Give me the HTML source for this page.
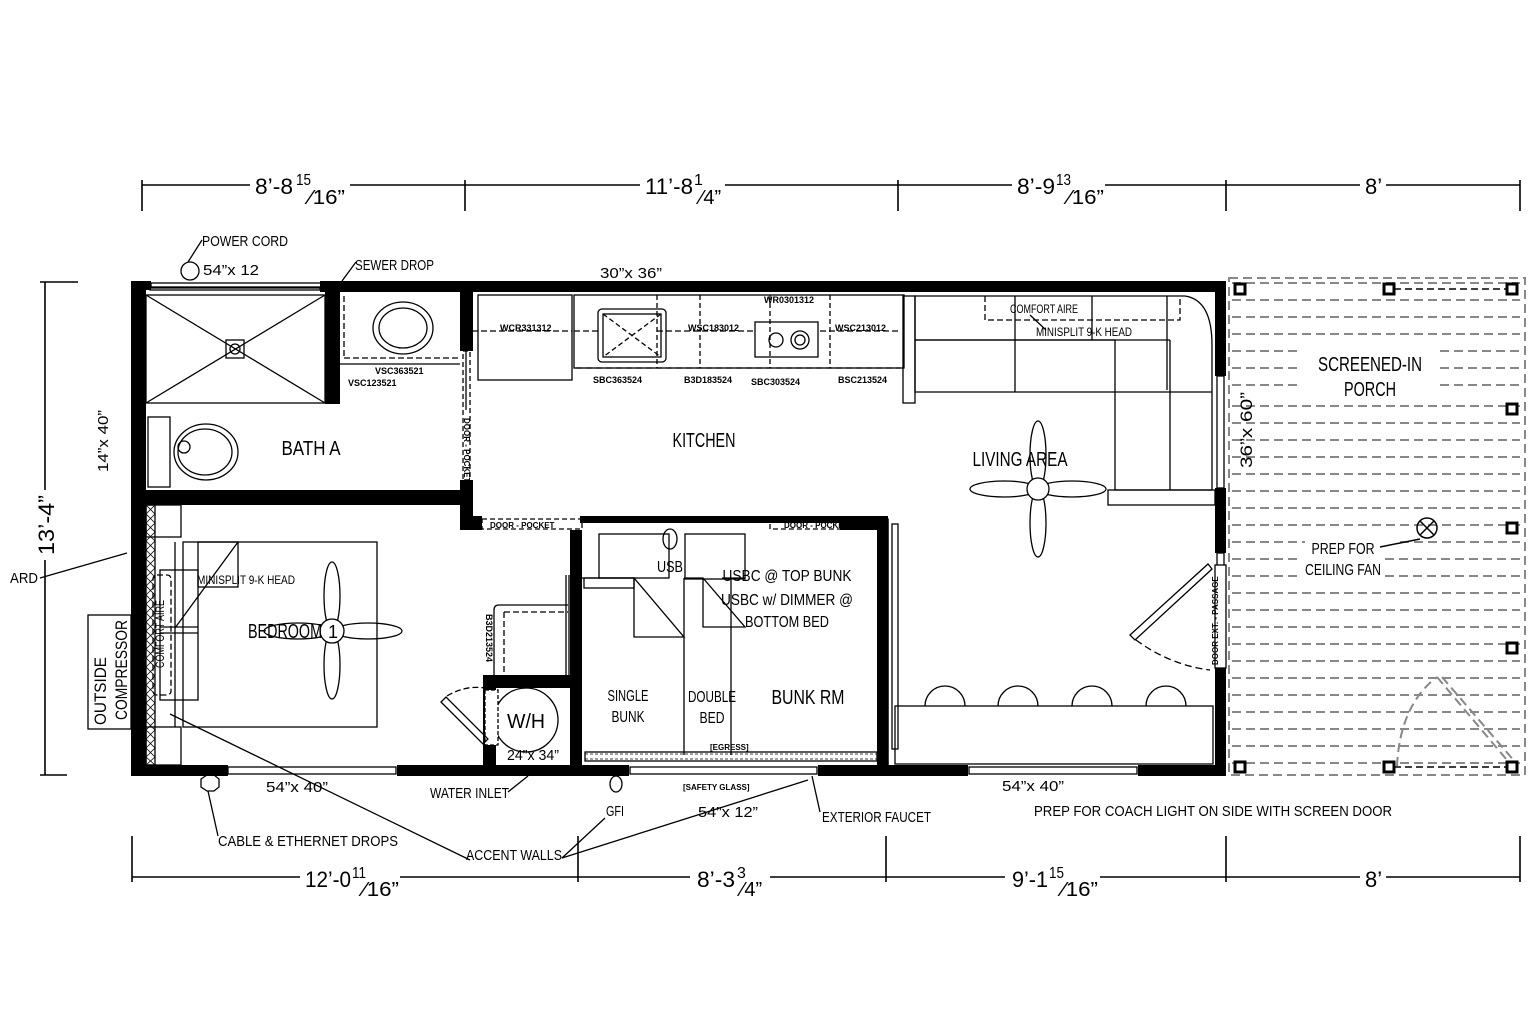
<!DOCTYPE html>
<html><head><meta charset="utf-8"><style>
html,body{margin:0;padding:0;background:#fff}
svg{display:block}
text{font-family:"Liberation Sans Narrow","Liberation Sans",sans-serif;fill:#000}
</style></head><body>
<svg width="1540" height="1026" viewBox="0 0 1540 1026" xmlns="http://www.w3.org/2000/svg">
<rect width="1540" height="1026" fill="#fff"/>
<g stroke="#000" stroke-width="1.6" fill="none">
<line x1="142" y1="185" x2="250" y2="185"/><line x1="350" y1="185" x2="640" y2="185"/><line x1="725" y1="185" x2="1012" y2="185"/><line x1="1105" y1="185" x2="1360" y2="185"/><line x1="1386" y1="185" x2="1520" y2="185"/>
<line x1="142" y1="180" x2="142" y2="211"/><line x1="465" y1="180" x2="465" y2="211"/><line x1="898" y1="180" x2="898" y2="211"/><line x1="1226" y1="180" x2="1226" y2="211"/><line x1="1520" y1="180" x2="1520" y2="211"/>
<line x1="132" y1="877" x2="300" y2="877"/><line x1="400" y1="877" x2="690" y2="877"/><line x1="770" y1="877" x2="1005" y2="877"/><line x1="1100" y1="877" x2="1360" y2="877"/><line x1="1386" y1="877" x2="1520" y2="877"/>
<line x1="132" y1="836" x2="132" y2="882"/><line x1="578" y1="836" x2="578" y2="882"/><line x1="886" y1="836" x2="886" y2="882"/><line x1="1226" y1="836" x2="1226" y2="882"/><line x1="1520" y1="836" x2="1520" y2="882"/>
<line x1="45" y1="282" x2="45" y2="490"/><line x1="45" y1="560" x2="45" y2="775"/>
<line x1="40" y1="282" x2="78" y2="282"/><line x1="40" y1="775" x2="67" y2="775"/>
</g>
<g font-size="22">
<text x="255" y="194" textLength="38" lengthAdjust="spacingAndGlyphs">8’-8</text><text x="296" y="185" font-size="16" textLength="15" lengthAdjust="spacingAndGlyphs">15</text><text x="309" y="204" font-size="20" textLength="36" lengthAdjust="spacingAndGlyphs">⁄16”</text>
<text x="645" y="194" textLength="48" lengthAdjust="spacingAndGlyphs">11’-8</text><text x="694" y="185" font-size="16">1</text><text x="700" y="204" font-size="20">⁄4”</text>
<text x="1017" y="194" textLength="38" lengthAdjust="spacingAndGlyphs">8’-9</text><text x="1056" y="185" font-size="16" textLength="15" lengthAdjust="spacingAndGlyphs">13</text><text x="1068" y="204" font-size="20" textLength="36" lengthAdjust="spacingAndGlyphs">⁄16”</text>
<text x="1365" y="194">8’</text>
<text x="305" y="887" textLength="46" lengthAdjust="spacingAndGlyphs">12’-0</text><text x="352" y="878" font-size="16" textLength="14" lengthAdjust="spacingAndGlyphs">11</text><text x="363" y="896" font-size="20" textLength="36" lengthAdjust="spacingAndGlyphs">⁄16”</text>
<text x="697" y="887" textLength="38" lengthAdjust="spacingAndGlyphs">8’-3</text><text x="737" y="878" font-size="16">3</text><text x="741" y="896" font-size="20">⁄4”</text>
<text x="1012" y="887" textLength="36" lengthAdjust="spacingAndGlyphs">9’-1</text><text x="1049" y="878" font-size="16" textLength="15" lengthAdjust="spacingAndGlyphs">15</text><text x="1062" y="896" font-size="20" textLength="36" lengthAdjust="spacingAndGlyphs">⁄16”</text>
<text x="1365" y="887">8’</text>
<text transform="translate(54,555) rotate(-90)" textLength="60" lengthAdjust="spacingAndGlyphs">13’-4”</text>
</g>

<g stroke="#888" stroke-width="2" stroke-dasharray="9,5" fill="none">
<rect x="1229" y="278" width="296" height="497"/>
<line x1="1232" y1="283" x2="1520" y2="283"/><line x1="1232" y1="300" x2="1520" y2="300"/><line x1="1232" y1="317" x2="1520" y2="317"/><line x1="1232" y1="334" x2="1520" y2="334"/>
<line x1="1232" y1="351" x2="1300" y2="351"/><line x1="1440" y1="351" x2="1520" y2="351"/><line x1="1232" y1="368" x2="1300" y2="368"/><line x1="1440" y1="368" x2="1520" y2="368"/><line x1="1232" y1="385" x2="1300" y2="385"/><line x1="1440" y1="385" x2="1520" y2="385"/>
<line x1="1232" y1="406" x2="1520" y2="406"/><line x1="1232" y1="423" x2="1520" y2="423"/><line x1="1232" y1="440" x2="1520" y2="440"/><line x1="1232" y1="457" x2="1520" y2="457"/><line x1="1232" y1="474" x2="1520" y2="474"/><line x1="1232" y1="491" x2="1520" y2="491"/><line x1="1232" y1="508" x2="1520" y2="508"/><line x1="1232" y1="525" x2="1520" y2="525"/>
<line x1="1232" y1="542" x2="1305" y2="542"/><line x1="1400" y1="542" x2="1520" y2="542"/><line x1="1232" y1="559" x2="1300" y2="559"/><line x1="1385" y1="559" x2="1520" y2="559"/><line x1="1232" y1="576" x2="1300" y2="576"/><line x1="1385" y1="576" x2="1520" y2="576"/>
<line x1="1232" y1="593" x2="1520" y2="593"/><line x1="1232" y1="610" x2="1520" y2="610"/><line x1="1232" y1="627" x2="1520" y2="627"/><line x1="1232" y1="644" x2="1520" y2="644"/><line x1="1232" y1="661" x2="1520" y2="661"/><line x1="1232" y1="678" x2="1520" y2="678"/><line x1="1232" y1="695" x2="1520" y2="695"/><line x1="1232" y1="712" x2="1520" y2="712"/><line x1="1232" y1="729" x2="1520" y2="729"/><line x1="1232" y1="746" x2="1520" y2="746"/><line x1="1232" y1="763" x2="1520" y2="763"/>
<path d="M1397 766 Q1400 705 1437 677"/>
<line x1="1437" y1="677" x2="1512" y2="766"/><line x1="1442" y1="677" x2="1516" y2="763"/>
</g>
<g stroke="#000" stroke-width="3" fill="#fff">
<rect x="1235" y="284" width="10" height="10"/><rect x="1384" y="284" width="10" height="10"/><rect x="1507" y="284" width="10" height="10"/>
<rect x="1507" y="404" width="10" height="10"/><rect x="1507" y="523" width="10" height="10"/><rect x="1507" y="643" width="10" height="10"/>
<rect x="1235" y="762" width="10" height="10"/><rect x="1384" y="762" width="10" height="10"/><rect x="1507" y="762" width="10" height="10"/>
</g>
<line x1="1394" y1="289" x2="1507" y2="289" stroke="#000" stroke-width="1.5" stroke-dasharray="7,4"/>
<line x1="1394" y1="767" x2="1507" y2="767" stroke="#000" stroke-width="1.5" stroke-dasharray="7,4"/>
<g font-size="20" text-anchor="middle"><text x="1370" y="371" textLength="104" lengthAdjust="spacingAndGlyphs">SCREENED-IN</text><text x="1370" y="396" textLength="52" lengthAdjust="spacingAndGlyphs">PORCH</text></g>
<g stroke="#000" stroke-width="1.5" fill="none"><circle cx="1427" cy="528" r="10"/><line x1="1420" y1="521" x2="1434" y2="535"/><line x1="1434" y1="521" x2="1420" y2="535"/><line x1="1380" y1="547" x2="1420" y2="539"/></g>
<g font-size="16" text-anchor="middle"><text x="1343" y="554" textLength="63" lengthAdjust="spacingAndGlyphs">PREP FOR</text><text x="1343" y="575" textLength="76" lengthAdjust="spacingAndGlyphs">CEILING FAN</text></g>
<text transform="translate(1252,468) rotate(-90)" font-size="17" textLength="76" lengthAdjust="spacingAndGlyphs">36”x 60”</text>

<g fill="#000">
<rect x="131" y="281" width="20" height="9"/><rect x="320" y="281" width="906" height="11"/>
<rect x="131" y="281" width="15" height="495"/>
<rect x="1215" y="281" width="11" height="95"/><rect x="1215" y="488" width="11" height="65"/><rect x="1215" y="668" width="11" height="108"/>
<rect x="131" y="765" width="97" height="11"/><rect x="397" y="765" width="232" height="11"/><rect x="818" y="765" width="150" height="11"/><rect x="1138" y="765" width="88" height="11"/>
<rect x="325" y="291" width="15" height="113"/>
<rect x="131" y="490" width="340" height="15"/>
<rect x="460" y="291" width="13" height="60"/><rect x="460" y="480" width="13" height="50"/>
<rect x="460" y="516" width="22" height="14"/><rect x="840" y="516" width="48" height="14"/>
<rect x="570" y="530" width="12" height="240"/><rect x="877" y="516" width="11" height="254"/>
<rect x="483" y="675" width="98" height="13"/><rect x="483" y="675" width="13" height="95"/>
<rect x="580" y="516" width="110" height="7"/><rect x="690" y="516" width="150" height="7"/>
</g>
<g stroke="#000" stroke-width="1.3" fill="none">
<rect x="151" y="283" width="170" height="5"/>
<rect x="150" y="287" width="170" height="3"/>
<rect x="228" y="767" width="168" height="7"/><rect x="630" y="767" width="187" height="7"/><rect x="969" y="767" width="168" height="7"/>
<rect x="579" y="283" width="70" height="7"/>
<rect x="1217" y="376" width="7" height="112"/>
<rect x="1217" y="553" width="7" height="115"/>
<rect x="134" y="425" width="10" height="45"/>
<rect x="146" y="295" width="179" height="108"/>
<line x1="146" y1="295" x2="325" y2="403"/><line x1="325" y1="295" x2="146" y2="403"/>
<rect x="226" y="340" width="18" height="18"/><circle cx="235" cy="349" r="5"/>
<rect x="148" y="417" width="22" height="70"/>
<ellipse cx="206" cy="452" rx="32" ry="28"/><ellipse cx="205" cy="452" rx="27" ry="23"/><circle cx="184" cy="447" r="6"/>
<line x1="340" y1="364" x2="460" y2="364"/>
<ellipse cx="403" cy="328" rx="30" ry="26"/><ellipse cx="403" cy="328" rx="24" ry="20"/>
<line x1="344" y1="296" x2="344" y2="358" stroke-dasharray="6,3"/><line x1="344" y1="358" x2="460" y2="358" stroke-dasharray="6,3"/>
<rect x="463" y="351" width="7" height="129" stroke-dasharray="5,3"/>
<line x1="466" y1="335" x2="466" y2="410"/>
<rect x="478" y="295" width="94" height="85"/>
<line x1="472" y1="331" x2="572" y2="331" stroke-dasharray="6,3"/>
<rect x="574" y="295" width="330" height="73"/>
<line x1="576" y1="368" x2="900" y2="368" stroke-dasharray="6,4"/>
<line x1="574" y1="331" x2="598" y2="331" stroke-dasharray="6,3"/>
<rect x="598" y="309" width="68" height="53" rx="4"/><rect x="603" y="314" width="58" height="43"/>
<line x1="603" y1="314" x2="661" y2="357" stroke-dasharray="5,3"/><line x1="661" y1="314" x2="603" y2="357" stroke-dasharray="5,3"/>
<line x1="657" y1="295" x2="657" y2="368" stroke-dasharray="5,3"/><line x1="700" y1="295" x2="700" y2="368" stroke-dasharray="5,3"/><line x1="770" y1="295" x2="770" y2="368" stroke-dasharray="5,3"/><line x1="830" y1="295" x2="830" y2="368" stroke-dasharray="5,3"/>
<line x1="657" y1="331" x2="755" y2="331" stroke-dasharray="6,3"/><line x1="820" y1="331" x2="900" y2="331" stroke-dasharray="6,3"/>
<rect x="755" y="322" width="63" height="35"/><circle cx="776" cy="340" r="7"/><circle cx="800" cy="340" r="9"/><circle cx="800" cy="340" r="5"/>
<rect x="903" y="296" width="12" height="107"/>
<path d="M915 296 H1185 Q1212 300 1212 345 V490 H1115 V340 H915 Z"/>
<line x1="915" y1="340" x2="1170" y2="340"/><line x1="1015" y1="296" x2="1015" y2="392"/><line x1="1092" y1="296" x2="1092" y2="340"/><line x1="1167" y1="296" x2="1167" y2="390"/>
<path d="M915 340 V392 H1115"/><line x1="1115" y1="392" x2="1212" y2="392"/><line x1="1170" y1="340" x2="1170" y2="490"/>
<rect x="1108" y="490" width="107" height="15"/>
<path d="M985 296 V320 H1180 V296" stroke-dasharray="6,3"/>
<line x1="1030" y1="315" x2="1046" y2="330"/>
<ellipse cx="1038" cy="455" rx="8" ry="34"/><ellipse cx="1038" cy="523" rx="8" ry="34"/><ellipse cx="1004" cy="489" rx="34" ry="8"/><ellipse cx="1072" cy="489" rx="34" ry="8"/><circle cx="1038" cy="489" r="11" fill="#fff"/>
<rect x="895" y="706" width="318" height="58"/>
<path d="M925 706 A20 20 0 0 1 965 706"/><path d="M998 706 A20 20 0 0 1 1038 706"/><path d="M1072 706 A20 20 0 0 1 1112 706"/><path d="M1146 706 A20 20 0 0 1 1186 706"/>
<path d="M1130 635 L1208 564 L1212 569 L1135 640 Z"/>
<path d="M1136 640 Q1170 665 1210 670" stroke-dasharray="7,4"/>
<rect x="1215" y="565" width="11" height="103" fill="#fff"/>
<rect x="482" y="519" width="100" height="10" stroke-dasharray="5,3"/>
<rect x="770" y="519" width="75" height="10" stroke-dasharray="5,3"/>
<line x1="582" y1="520" x2="690" y2="520"/><line x1="690" y1="520" x2="840" y2="520"/>
<rect x="146" y="505" width="9" height="260"/>
<rect x="879" y="519" width="9" height="246"/>
<rect x="585" y="752" width="292" height="9"/>
<line x1="888" y1="519" x2="888" y2="765"/>
<rect x="892" y="524" width="6" height="225"/>
<rect x="146" y="505" width="35" height="32"/><rect x="146" y="727" width="35" height="38"/>
<rect x="183" y="542" width="194" height="185"/>
<line x1="175" y1="542" x2="175" y2="727"/>
<rect x="160" y="570" width="38" height="130"/>
<rect x="153" y="575" width="18" height="120" rx="4" stroke-dasharray="6,3"/>
<rect x="198" y="542" width="40" height="45"/><line x1="238" y1="542" x2="175" y2="628"/>
<line x1="160" y1="627" x2="198" y2="627"/><line x1="160" y1="633" x2="198" y2="633"/>
<ellipse cx="332" cy="596" rx="8" ry="34"/><ellipse cx="332" cy="665" rx="8" ry="34"/><ellipse cx="298" cy="631" rx="34" ry="8"/><ellipse cx="368" cy="631" rx="34" ry="8"/><circle cx="332" cy="631" r="12" fill="#fff"/>
<rect x="88" y="615" width="43" height="114"/>
<path d="M494 675 V610 Q494 605 499 605 H568"/><line x1="504" y1="612" x2="504" y2="675" stroke-dasharray="6,3"/><line x1="504" y1="612" x2="568" y2="612" stroke-dasharray="6,3"/>
<line x1="566" y1="575" x2="566" y2="675"/><line x1="569" y1="575" x2="569" y2="675"/>
<circle cx="526" cy="720" r="32"/>
<rect x="485" y="690" width="13" height="55" fill="#fff" stroke-dasharray="4,2"/>
<path d="M441 702 L483 744 L488 739 L446 697 Z"/>
<path d="M447 696 Q465 685 485 688" stroke-dasharray="6,3"/>
<rect x="599" y="534" width="70" height="44"/><rect x="584" y="578" width="50" height="10"/>
<path d="M582 578 H634 L684 637 H634 V578"/>
<rect x="685" y="534" width="60" height="45"/>
<path d="M684 578 H703 L745 627 H703 V578"/>
<line x1="684" y1="578" x2="684" y2="755"/><line x1="731" y1="578" x2="731" y2="755"/>
<ellipse cx="670" cy="539" rx="7" ry="10"/>
<line x1="722" y1="578" x2="745" y2="578"/>
<line x1="170" y1="714" x2="470" y2="860"/>
<line x1="562" y1="858" x2="605" y2="818"/><line x1="562" y1="858" x2="808" y2="780"/>
<line x1="127" y1="553" x2="40" y2="578"/>
<circle cx="190" cy="271" r="9"/><line x1="188" y1="262" x2="202" y2="240"/>
<line x1="342" y1="281" x2="356" y2="262"/>
<path d="M201 779 L207 775 H214 L219 779 V787 L214 791 H207 L201 787 Z"/>
<line x1="208" y1="791" x2="218" y2="836"/>
<line x1="508" y1="792" x2="528" y2="776"/>
<ellipse cx="616" cy="784" rx="6" ry="8"/>
<line x1="812" y1="776" x2="820" y2="812"/>
</g>
<g stroke="#000" stroke-width="0.8">
<path d="M146 505 L155 514 M155 505 L146 514 M146 514 L155 523 M155 514 L146 523 M146 523 L155 532 M155 523 L146 532 M146 532 L155 541 M155 532 L146 541 M146 541 L155 550 M155 541 L146 550 M146 550 L155 559 M155 550 L146 559 M146 559 L155 568 M155 559 L146 568 M146 568 L155 577 M155 568 L146 577 M146 577 L155 586 M155 577 L146 586 M146 586 L155 595 M155 586 L146 595 M146 595 L155 604 M155 595 L146 604 M146 604 L155 613 M155 604 L146 613 M146 613 L155 622 M155 613 L146 622 M146 622 L155 631 M155 622 L146 631 M146 631 L155 640 M155 631 L146 640 M146 640 L155 649 M155 640 L146 649 M146 649 L155 658 M155 649 L146 658 M146 658 L155 667 M155 658 L146 667 M146 667 L155 676 M155 667 L146 676 M146 676 L155 685 M155 676 L146 685 M146 685 L155 694 M155 685 L146 694 M146 694 L155 703 M155 694 L146 703 M146 703 L155 712 M155 703 L146 712 M146 712 L155 721 M155 712 L146 721 M146 721 L155 730 M155 721 L146 730 M146 730 L155 739 M155 730 L146 739 M146 739 L155 748 M155 739 L146 748 M146 748 L155 757 M155 748 L146 757 M146 757 L155 765 M155 757 L146 765"/>
<path d="M879 519 L888 528 M888 519 L879 528 M879 528 L888 537 M888 528 L879 537 M879 537 L888 546 M888 537 L879 546 M879 546 L888 555 M888 546 L879 555 M879 555 L888 564 M888 555 L879 564 M879 564 L888 573 M888 564 L879 573 M879 573 L888 582 M888 573 L879 582 M879 582 L888 591 M888 582 L879 591 M879 591 L888 600 M888 591 L879 600 M879 600 L888 609 M888 600 L879 609 M879 609 L888 618 M888 609 L879 618 M879 618 L888 627 M888 618 L879 627 M879 627 L888 636 M888 627 L879 636 M879 636 L888 645 M888 636 L879 645 M879 645 L888 654 M888 645 L879 654 M879 654 L888 663 M888 654 L879 663 M879 663 L888 672 M888 663 L879 672 M879 672 L888 681 M888 672 L879 681 M879 681 L888 690 M888 681 L879 690 M879 690 L888 699 M888 690 L879 699 M879 699 L888 708 M888 699 L879 708 M879 708 L888 717 M888 708 L879 717 M879 717 L888 726 M888 717 L879 726 M879 726 L888 735 M888 726 L879 735 M879 735 L888 744 M888 735 L879 744 M879 744 L888 753 M888 744 L879 753 M879 753 L888 762 M888 753 L879 762"/>
</g>
<g stroke="#000" stroke-width="0.8" stroke-dasharray="3,2"><line x1="585" y1="754" x2="877" y2="754"/><line x1="585" y1="759" x2="877" y2="759"/></g>

<g font-size="20" text-anchor="middle">
<text x="311" y="455" textLength="59" lengthAdjust="spacingAndGlyphs">BATH A</text>
<text x="704" y="447" textLength="63" lengthAdjust="spacingAndGlyphs">KITCHEN</text>
<text x="1020" y="466" textLength="95" lengthAdjust="spacingAndGlyphs">LIVING AREA</text>
<text x="285" y="638" textLength="74" lengthAdjust="spacingAndGlyphs">BEDROOM</text><text x="333" y="638" font-size="18">1</text>
<text x="808" y="704" textLength="73" lengthAdjust="spacingAndGlyphs">BUNK RM</text>
<text x="526" y="728" textLength="38" lengthAdjust="spacingAndGlyphs">W/H</text>
</g>
<g font-size="16" text-anchor="middle">
<text x="628" y="701" textLength="41" lengthAdjust="spacingAndGlyphs">SINGLE</text><text x="628" y="722" textLength="33" lengthAdjust="spacingAndGlyphs">BUNK</text>
<text x="712" y="702" textLength="48" lengthAdjust="spacingAndGlyphs">DOUBLE</text><text x="712" y="723" textLength="25" lengthAdjust="spacingAndGlyphs">BED</text>
<text x="787" y="581" textLength="129" lengthAdjust="spacingAndGlyphs">USBC @ TOP BUNK</text><text x="787" y="605" textLength="132" lengthAdjust="spacingAndGlyphs">USBC w/ DIMMER @</text><text x="787" y="627" textLength="84" lengthAdjust="spacingAndGlyphs">BOTTOM BED</text>
<text x="670" y="572" textLength="26" lengthAdjust="spacingAndGlyphs">USB</text>
</g>
<g font-size="15">
<text x="202" y="246" textLength="86" lengthAdjust="spacingAndGlyphs">POWER CORD</text>
<text x="203" y="275" textLength="56" lengthAdjust="spacingAndGlyphs">54”x 12</text>
<text x="355" y="270" textLength="79" lengthAdjust="spacingAndGlyphs">SEWER DROP</text>
<text x="600" y="278" textLength="62" lengthAdjust="spacingAndGlyphs">30”x 36”</text>
<text x="266" y="792" textLength="62" lengthAdjust="spacingAndGlyphs">54”x 40”</text>
<text x="430" y="798" textLength="79" lengthAdjust="spacingAndGlyphs">WATER INLET</text>
<text x="218" y="846" textLength="180" lengthAdjust="spacingAndGlyphs">CABLE &amp; ETHERNET DROPS</text>
<text x="466" y="860" textLength="96" lengthAdjust="spacingAndGlyphs">ACCENT WALLS</text>
<text x="606" y="816" textLength="18" lengthAdjust="spacingAndGlyphs">GFI</text>
<text x="698" y="817" textLength="60" lengthAdjust="spacingAndGlyphs">54”x 12”</text>
<text x="822" y="822" textLength="109" lengthAdjust="spacingAndGlyphs">EXTERIOR FAUCET</text>
<text x="1002" y="791" textLength="62" lengthAdjust="spacingAndGlyphs">54”x 40”</text>
<text x="1034" y="816" textLength="358" lengthAdjust="spacingAndGlyphs">PREP FOR COACH LIGHT ON SIDE WITH SCREEN DOOR</text>
<text x="10" y="583" textLength="28" lengthAdjust="spacingAndGlyphs">ARD</text>
<text x="507" y="760" textLength="52" lengthAdjust="spacingAndGlyphs">24”x 34”</text>
<text x="197" y="584" font-size="12" textLength="98" lengthAdjust="spacingAndGlyphs">MINISPLIT 9-K HEAD</text>
<text x="1036" y="336" font-size="12" textLength="96" lengthAdjust="spacingAndGlyphs">MINISPLIT 9-K HEAD</text>
<text x="1010" y="313" font-size="12" textLength="68" lengthAdjust="spacingAndGlyphs">COMFORT AIRE</text>
<text transform="translate(106,725) rotate(-90)" font-size="17" textLength="68" lengthAdjust="spacingAndGlyphs">OUTSIDE</text>
<text transform="translate(127,720) rotate(-90)" font-size="17" textLength="100" lengthAdjust="spacingAndGlyphs">COMPRESSOR</text>
<text transform="translate(164,668) rotate(-90)" font-size="12" textLength="68" lengthAdjust="spacingAndGlyphs">COMFORT AIRE</text>
<text transform="translate(108,472) rotate(-90)" textLength="62" lengthAdjust="spacingAndGlyphs">14”x 40”</text>
</g>
<g font-size="9" font-weight="bold">
<text x="500" y="331">WCR331312</text>
<text x="688" y="331">WSC183012</text>
<text x="835" y="331">WSC213012</text>
<text x="764" y="303">WR0301312</text>
<text x="375" y="374">VSC363521</text>
<text x="348" y="386">VSC123521</text>
<text x="593" y="383">SBC363524</text>
<text x="684" y="383">B3D183524</text>
<text x="751" y="385">SBC303524</text>
<text x="838" y="383">BSC213524</text>
<text x="490" y="528" font-size="8">DOOR - POCKET</text>
<text x="784" y="528" font-size="8">DOOR - POCKET</text>
<text x="710" y="750" font-size="8">[EGRESS]</text>
<text x="683" y="790" font-size="8">[SAFETY GLASS]</text>
<text transform="translate(464,418) rotate(90)" font-size="8">DOOR - POCKET</text>
<text transform="translate(1218,665) rotate(-90)" font-size="8">DOOR EXT. - PASSAGE</text>
<text transform="translate(486,614) rotate(90)" font-size="9">B3D213524</text>
</g>
</svg>
</body></html>
